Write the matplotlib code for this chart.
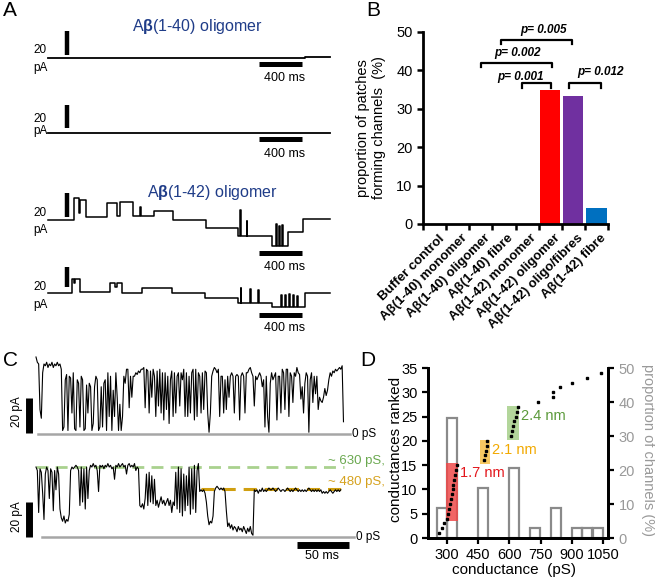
import numpy as np
import matplotlib.pyplot as plt
from matplotlib.patches import Rectangle

plt.rcParams['font.family'] = ['Liberation Sans', 'DejaVu Sans']
plt.rcParams['mathtext.fontset'] = 'custom'
plt.rcParams['mathtext.rm'] = 'Liberation Sans'
plt.rcParams['mathtext.bf'] = 'Liberation Sans:bold'

W, H = 655, 578  # figure size in pixels

# ---------------- panel A : step recordings (time ms, current pA)
a1_t = [0, 2390, 2620]
a1_i = [0, 0.5, 0.5]
a2_t = [0, 2620]
a2_i = [0, 0]
a3_t = [0, 239, 283, 295, 351, 549, 636, 667, 791, 853, 862, 983, 1157, 1464, 1767, 1783, 1792,
        1845, 1851, 2078, 2118, 2127, 2145, 2154, 2176, 2185, 2232, 2372, 2620]
a3_i = [0, 18, 6, 17, 2.8, 13.9, 3.3, 15.3, 3.3, 11, 3.3, 7.8, 0, -6.4, -13, 8, -13,
        -1, -13, -22, -3, -22, -5, -22, -4, -22, -9.7, 0.6, 0.6]
a4_t = [0, 217, 239, 251, 295, 574, 620, 636, 685, 868, 1147, 1457, 1767, 1789, 1795, 1876, 1882,
        1953, 1960, 2078, 2160, 2170, 2201, 2210, 2238, 2247, 2275, 2288, 2316, 2325, 2387, 2620]
a4_i = [0, 14, 10, 14, 1, 10, 6, 10, 0, 5.3, 0, -5, -10, 5, -10, 4, -10,
        3, -10, -14, -2, -14, -2, -14, -1, -14, -2, -14, -3, -14, 0, 0]
a_titles = [r'A$\mathbf{\beta}$(1-40) oligomer', r'A$\mathbf{\beta}$(1-42) oligomer']

# ---------------- panel B
b_labels = ['Buffer control', 'A\u03b2(1-40) monomer', 'A\u03b2(1-40) oligomer', 'A\u03b2(1-40) fibre',
            'A\u03b2(1-42) monomer', 'A\u03b2(1-42) oligomer', 'A\u03b2(1-42) oligo/fibres', 'A\u03b2(1-42) fibre']
b_values = [0, 0, 0, 0, 0, 34.8, 33.3, 4.2]
b_colors = ['#ff0000'] * 6 + ['#7030a0', '#0070c0']
b_pvals = ['p= 0.005', 'p= 0.002', 'p= 0.001', 'p= 0.012']

# ---------------- panel C : single channel traces, one sample every 1.28 ms (pA)
c_dt = 1.28
c1_i = [44, 41, 40, 14, 9, 35, 40, 39, 41, 38,
        40, 39, 41, 38, 40, 39, 41, 39, 40, 37,
        2, 4, 31, 34, 2, 33, 32, 12, 35, 3,
        2, 31, 29, 4, 33, 31, 2, 3, 28, 12,
        29, 27, 2, 6, 27, 33, 31, 2, 4, 27,
        4, 29, 31, 2, 35, 10, 33, 2, 25, 10,
        35, 21, 2, 17, 2, 10, 33, 29, 37, 37,
        15, 33, 21, 33, 33, 35, 34, 36, 35, 37,
        37, 38, 15, 37, 36, 12, 36, 21, 37, 33,
        10, 36, 16, 37, 12, 35, 8, 35, 14, 33,
        6, 31, 36, 10, 35, 12, 33, 35, 16, 35,
        31, 37, 10, 35, 10, 33, 12, 35, 37, 8,
        37, 10, 35, 33, 12, 35, 14, 36, 35, 12,
        1, 12, 33, 36, 38, 37, 35, 37, 10, 33,
        33, 12, 31, 14, 33, 21, 33, 35, 33, 12,
        33, 34, 33, 8, 33, 35, 33, 12, 35, 35,
        37, 38, 35, 33, 16, 33, 31, 33, 35, 33,
        27, 31, 4, 33, 10, 1, 29, 35, 31, 33,
        35, 8, 33, 33, 12, 37, 35, 14, 37, 37,
        10, 35, 33, 18, 35, 33, 38, 35, 34, 20,
        27, 12, 29, 35, 33, 1, 31, 35, 18, 33,
        23, 33, 14, 21, 19, 18, 21, 26, 22, 25,
        31, 35, 33, 36, 35, 37, 36, 37, 38, 37,
        39, 7]
c2_i = [40, 38, 14, 39, 37, 25, 10, 36, 40, 38,
        22, 39, 37, 15, 38, 27, 40, 36, 16, 11,
        9, 12, 8, 10, 9, 13, 38, 40, 39, 40,
        41, 40, 38, 18, 40, 20, 39, 16, 40, 22,
        38, 41, 40, 42, 40, 41, 38, 26, 41, 40,
        41, 39, 41, 40, 42, 40, 41, 39, 40, 33,
        41, 40, 42, 40, 41, 42, 40, 41, 36, 41,
        42, 40, 41, 40, 42, 38, 40, 39, 18, 17,
        19, 16, 22, 36, 18, 37, 20, 35, 19, 33,
        18, 21, 17, 20, 23, 19, 21, 18, 20, 22,
        18, 21, 14, 20, 18, 37, 16, 40, 14, 39,
        12, 36, 15, 35, 18, 40, 13, 39, 16, 41,
        14, 38, 42, 26, 27, 26, 27, 25, 20, 12,
        7, 9, 8, 12, 26, 28, 29, 28, 27, 28,
        27, 28, 26, 15, 6, 8, 5, 7, 4, 6,
        5, 3, 6, 4, 5, 3, 6, 4, 2, 5,
        3, 6, 2, 1, 27, 26, 27, 25, 27, 26,
        28, 26, 27, 26, 27, 28, 27, 27, 28, 27,
        26, 27, 28, 27, 26, 27, 27, 26, 27, 28,
        27, 26, 27, 26, 27, 28, 27, 26, 27, 26,
        27, 26, 27, 26, 27, 28, 27, 26, 27, 26,
        27, 26, 27, 26, 27, 25, 26, 25, 26, 25,
        26, 27, 26, 25, 26, 27, 26, 27, 26, 27]
c_level_630 = 40.0
c_level_480 = 27.4

# ---------------- panel D
d_cond = [265, 276, 287, 302, 306, 311, 315, 319, 323, 328, 332, 336, 340, 345, 349,
          479, 483, 487, 491, 495, 607, 613, 619, 625, 631, 637, 643,
          737, 812, 812, 844, 903, 972, 1040]
d_rank = list(range(1, 35))
d_bins = [275, 325, 475, 625, 725, 825, 925, 975, 1025]
d_pct = [8.8, 35.3, 14.7, 20.6, 2.9, 8.8, 2.9, 2.9, 2.9]
d_groups = ['1.7 nm', '2.1 nm', '2.4 nm']
d_group_span = [(295, 353, 3.6, 15.4), (460, 508, 15.3, 20.1), (591, 648, 20.2, 27.2)]
d_group_fill = ['#ef4a4a', '#f7c046', '#a6cf8a']
d_group_text = ['#e3161c', '#f2a900', '#5b9a3a']

fig = plt.figure(figsize=(6.55, 5.78), dpi=100)


def px_axes(x0, y0, x1, y1):
    return fig.add_axes([x0 / W, 1 - y1 / H, (x1 - x0) / W, (y1 - y0) / H])


def fig_text(x, y, s, **kw):
    fig.text(x / W, 1 - y / H, s, **kw)


for letter, (x, y) in zip('ABCD', [(3, 10), (366, 10), (3, 360), (360, 360)]):
    fig_text(x, y, letter, fontsize=15, va='center')

# ---- A
a_traces = [(a1_t, a1_i), (a2_t, a2_i), (a3_t, a3_i), (a4_t, a4_i)]
a_boxes = [(30, 25, 340, 85), (30, 100, 340, 160), (30, 188, 340, 262), (30, 262, 340, 320)]
a_ylims = [(-22.5, 27.5), (-22.5, 27.5), (-35, 26.7), (-27, 31)]
a_vbar = [(2.5, 22.5), (4.2, 23.3), (2.5, 22.5), (6, 26)]
a_tbar_y = [-5, -5, -27.5, -22]
a_ms_y = [-16.7, -17.5, -39, -35]
a_20_y = [6.7, 12, 5.8, 6]
a_pa_y = [-8.3, 1.5, -8.3, -12]
for k, (t, cur) in enumerate(a_traces):
    ax = px_axes(*a_boxes[k])
    ax.set_xlim(-170, 2713)
    ax.set_ylim(*a_ylims[k])
    ax.axis('off')
    ax.step(t, cur, where='post', color='black', lw=1.3 if k < 2 else 1.1)
    ax.plot([171, 171], a_vbar[k], color='black', lw=3.2, solid_capstyle='butt')
    ax.plot([1960, 2362], [a_tbar_y[k]] * 2, color='black', lw=3.6, solid_capstyle='butt', clip_on=False)
    ax.text(2200, a_ms_y[k], '400 ms', ha='center', va='center', fontsize=9, clip_on=False)
    ax.text(-140, a_20_y[k], '20', ha='left', va='center', fontsize=8.5)
    ax.text(-140, a_pa_y[k], 'pA', ha='left', va='center', fontsize=8.5)
fig_text(197, 26, a_titles[0], ha='center', va='center', fontsize=11.5, color='#1f3c88')
fig_text(212, 193, a_titles[1], ha='center', va='center', fontsize=11.5, color='#1f3c88')

# ---- B
ax_b = px_axes(423, 31.7, 608, 224)
xb = np.arange(len(b_values)) + 0.5
ax_b.bar(xb, b_values, width=0.88, color=b_colors)
ax_b.set_xlim(0, 8)
ax_b.set_ylim(0, 50)
ax_b.set_yticks(range(0, 51, 10))
ax_b.set_xticks(np.arange(9))
ax_b.set_xticklabels([])
ax_b.set_xticks(xb + 0.15, minor=True)
ax_b.set_xticklabels(b_labels, minor=True, rotation=45, ha='right', va='top',
                     rotation_mode='anchor', fontweight='bold', fontsize=9.5)
ax_b.tick_params(axis='x', which='minor', length=0, pad=6)
ax_b.tick_params(axis='both', which='major', direction='out', length=4, width=1.8, labelsize=10.5)
for side in ['top', 'right']:
    ax_b.spines[side].set_visible(False)
for side in ['left', 'bottom']:
    ax_b.spines[side].set_linewidth(2)
ax_b.set_ylabel('proportion of patches\nforming channels  (%)', fontsize=10.5, linespacing=1.15)
ax_b.yaxis.set_label_coords(-0.2, 0.5)
b_brackets = [(3.38, 6.45, 47.8, 46.7), (2.51, 5.58, 41.9, 40.8), (4.28, 5.55, 36.6, 35.3), (6.33, 7.68, 36.6, 35.3)]
b_ptext = [(5.19, 50.4), (4.1, 44.4), (4.23, 38.3), (7.68, 39.4)]
for (x0, x1, ytop, ybot), (tx, ty), p in zip(b_brackets, b_ptext, b_pvals):
    ax_b.plot([x0, x0, x1, x1], [ybot, ytop, ytop, ybot], color='black', lw=1.6, clip_on=False)
    ax_b.text(tx, ty, p, ha='center', va='center', fontsize=8.5, fontweight='bold',
              fontstyle='italic', clip_on=False)

# ---- C
c_boxes = [(10, 352, 380, 442), (10, 452, 380, 562)]
c_ylims = [(-4.57, 46.86), (-14.3, 48.6)]
c_base = [(2, 302), (6, 306)]
c_vbar = [(0.6, 20.6), (0.2, 20.2)]
c_lab_y = [12.7, 11.6]
for k, cur in enumerate([c1_i, c2_i]):
    ax = px_axes(*c_boxes[k])
    ax.set_xlim(-25, 330.8)
    ax.set_ylim(*c_ylims[k])
    ax.axis('off')
    ax.plot(c_base[k], [0, 0], color='#a6a6a6', lw=1.8)
    ax.text(c_base[k][1] + 2, 0, '0 pS', ha='left', va='center', fontsize=8.5)
    if k == 1:
        ax.plot([0, 296], [c_level_630] * 2, color='#a9d18e', lw=2, dashes=(4.3, 2.6))
        ax.plot([159, 296], [c_level_480] * 2, color='#d09f10', lw=2.2, dashes=(4.3, 2.6))
        ax.text(281, c_level_630 + 3.5, '~ 630 pS,', color='#6aa84f', fontsize=9.5, va='center', clip_on=False)
        ax.text(281, c_level_480 + 3.8, '~ 480 pS,', color='#d6a21e', fontsize=9.5, va='center', clip_on=False)
        ax.plot([251, 301], [-4.6, -4.6], color='black', lw=5, solid_capstyle='butt')
        ax.text(275, -10.8, '50 ms', ha='center', va='center', fontsize=9)
    ax.plot(np.arange(len(cur)) * c_dt, cur, color='black', lw=0.8)
    ax.plot([-7.2, -7.2], c_vbar[k], color='black', lw=5, solid_capstyle='butt')
    ax.text(-17.8, c_lab_y[k], '20 pA', rotation=90, ha='center', va='center', fontsize=8.5)

# ---- D
ax_d = px_axes(428, 368, 608, 538)
ax_d2 = ax_d.twinx()
ax_d2.bar(d_bins, d_pct, width=48, facecolor='none', edgecolor='#8a8a8a', linewidth=1.6)
ax_d2.set_ylim(0, 50)
ax_d2.set_yticks(range(0, 51, 10))
ax_d.set_zorder(ax_d2.get_zorder() + 1)
ax_d.patch.set_visible(False)
for (x0, x1, y0, y1), fc in zip(d_group_span, d_group_fill):
    ax_d.add_patch(Rectangle((x0, y0), x1 - x0, y1 - y0, facecolor=fc, edgecolor='none', alpha=0.85))
ax_d.plot(d_cond, d_rank, 's', color='black', ms=2.1)
for name, (x0, x1, y0, y1), col in zip(d_groups, d_group_span, d_group_text):
    ax_d.text(x1 + 10, y1 - 2, name, color=col, fontsize=10.5, va='center', ha='left')
ax_d.set_xlim(210, 1074)
ax_d.set_ylim(0, 35)
ax_d.set_xticks(range(300, 1051, 150))
ax_d.set_yticks(range(0, 36, 5))
ax_d.tick_params(direction='out', length=4, width=1.6, labelsize=10.5)
ax_d2.tick_params(direction='out', length=4, width=1.6, labelsize=10.5, labelcolor='#999999')
for a in (ax_d, ax_d2):
    a.spines['top'].set_visible(False)
    for side in ['left', 'bottom', 'right']:
        a.spines[side].set_linewidth(2)
ax_d.set_xlabel('conductance  (pS)', fontsize=11)
ax_d.xaxis.set_label_coords(0.478, -0.145)
ax_d.set_ylabel('conductances ranked', fontsize=11)
ax_d.yaxis.set_label_coords(-0.14, 0.52)
ax_d2.set_ylabel('proportion of channels (%)', fontsize=10.5, color='#999999', rotation=-90, va='center')
ax_d2.yaxis.set_label_coords(1.22, 0.52)

fig.savefig('out.png', dpi=100)
